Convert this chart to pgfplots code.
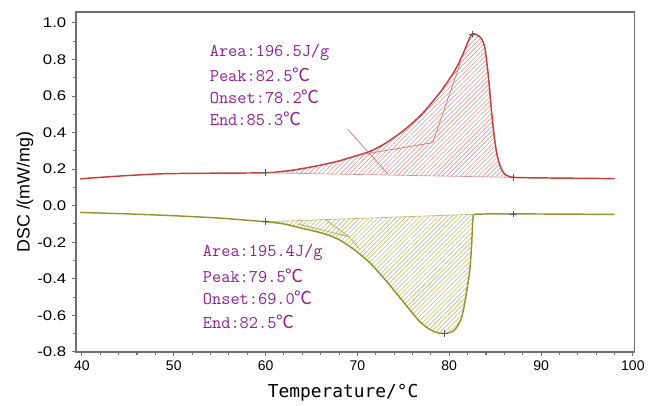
\documentclass[border=0pt]{standalone}
\usepackage{fontspec}
\setmainfont{Liberation Sans}
\newfontfamily\cjk{Noto Sans CJK SC}
\newfontfamily\monosans{DejaVu Sans Mono}
\usepackage{pgfplots}
\pgfplotsset{compat=1.18}
\usepgfplotslibrary{fillbetween}
\usetikzlibrary{patterns.meta}

\definecolor{redcurve}{RGB}{200,60,60}
\definecolor{redhatch}{RGB}{215,150,150}
\definecolor{redtan}{RGB}{205,130,130}
\definecolor{grncurve}{RGB}{145,150,45}
\definecolor{grnhatch}{RGB}{185,190,115}
\definecolor{grntan}{RGB}{175,180,100}
\definecolor{anncolor}{RGB}{145,30,150}
\definecolor{axisgray}{RGB}{110,110,110}

\newcommand{\anno}{\fontsize{13.4}{15}\ttfamily}
\newcommand{\degc}{{\cjk ℃}}

\begin{document}
\begin{tikzpicture}
\begin{axis}[
  scale only axis, width=419.25pt, height=255pt,
  xmin=39.35, xmax=100.2, ymin=-0.8, ymax=1.06,
  xtick={40,50,60,70,80,90,100}, minor x tick num=4,
  ytick={-0.8,-0.6,-0.4,-0.2,0,0.2,0.4,0.6,0.8,1.0}, minor y tick num=1,
  xtick pos=left, ytick pos=left, tick align=outside,
  major tick length=3pt, minor tick length=2pt,
  tick style={axisgray, line width=0.8pt},
  axis line style={axisgray, line width=1.1pt},
  /pgf/number format/assume math mode=true,
  yticklabel style={font=\fontsize{10.5}{12}\selectfont, xscale=1.2,
    /pgf/number format/fixed, /pgf/number format/fixed zerofill,
    /pgf/number format/precision=1},
  xticklabel style={font=\fontsize{10.5}{12}\selectfont},
  xlabel={Temperature/°C},
  xlabel style={font=\fontsize{13.4}{15}\monosans, at={(axis description cs:0.478,-0.1206)}, anchor=center},
  ylabel={DSC /(mW/mg)},
  ylabel style={font=\fontsize{13.4}{15}\selectfont, at={(axis description cs:-0.0912,0.47)}, anchor=center},
  hatch/.style={pattern={Lines[angle=45, distance=2.4pt, line width=0.45pt]}},
]
% heating curve (endotherm up)
\addplot[name path=red, redcurve, line width=1.1pt, smooth, tension=0.4] coordinates {
 (39.8,0.147) (42,0.155) (45,0.165) (49,0.175) (55,0.178) (60,0.180)
 (62.3,0.19) (64,0.203) (66,0.222) (68,0.245) (70,0.275) (71.5,0.30)
 (73,0.34) (75,0.41) (77,0.50) (79,0.62) (80.5,0.73)
 (81.5,0.83) (82.1,0.905) (82.5,0.94) (83.0,0.935) (83.5,0.915) (83.9,0.86)
 (84.3,0.69) (84.6,0.52) (84.9,0.38) (85.2,0.28) (85.6,0.21) (86.1,0.17)
 (87.0,0.155) (90,0.152) (94,0.15) (98,0.148)};
\addplot[name path=redbase, redhatch, line width=0.5pt] coordinates {(60,0.18) (87,0.155)};
\addplot[hatch, pattern color=redhatch] fill between[of=red and redbase, soft clip={domain=60:87}];
\addplot[redtan, line width=0.6pt] coordinates {(68.9,0.42) (73.3,0.175)};
\addplot[redtan, line width=0.6pt] coordinates {(70.5,0.28) (78.2,0.345) (81.2,0.78)};

% cooling curve (exotherm down)
\addplot[name path=grn, grncurve, line width=1.1pt, smooth, tension=0.4] coordinates {
 (39.8,-0.037) (45,-0.045) (50,-0.055) (55,-0.068) (60,-0.088) (62,-0.100)
 (64,-0.124) (66,-0.148) (67,-0.164) (68,-0.186) (69.5,-0.235) (71.3,-0.31)
 (73.1,-0.41) (74.9,-0.52) (76.7,-0.63) (77.8,-0.675) (78.6,-0.694)
 (79.5,-0.700) (80.3,-0.69) (80.8,-0.667) (81.3,-0.62) (81.6,-0.557)
 (81.9,-0.47) (82.2,-0.37) (82.4,-0.25) (82.5,-0.15) (82.6,-0.06)
 (82.8,-0.047) (85,-0.045) (87,-0.045) (92,-0.046) (98,-0.048)};
\addplot[name path=grnbase, grnhatch, line width=0.5pt] coordinates {(60,-0.088) (82.7,-0.047)};
\addplot[hatch, pattern color=grnhatch] fill between[of=grn and grnbase, soft clip={domain=60:82.7}];
\addplot[grntan, line width=0.6pt] coordinates {(63.5,-0.10) (69.1,-0.17) (70.2,-0.235)};
\addplot[grntan, line width=0.6pt] coordinates {(66.5,-0.075) (69.1,-0.17)};

% characteristic points
\addplot[only marks, mark=+, mark size=2.5pt, gray!70!black, mark options={line width=0.6pt}] coordinates {
 (60,0.18) (82.5,0.94) (87,0.155) (60,-0.088) (79.5,-0.70) (87,-0.045)};

\node[anchor=west, inner sep=0pt, text=anncolor, font=\anno] at (axis cs:53.9,0.838) {Area:196.5J/g};
\node[anchor=west, inner sep=0pt, text=anncolor, font=\anno] at (axis cs:53.9,0.718) {Peak:82.5\degc};
\node[anchor=west, inner sep=0pt, text=anncolor, font=\anno] at (axis cs:53.9,0.597) {Onset:78.2\degc};
\node[anchor=west, inner sep=0pt, text=anncolor, font=\anno] at (axis cs:53.9,0.477) {End:85.3\degc};

\node[anchor=west, inner sep=0pt, text=anncolor, font=\anno] at (axis cs:53.15,-0.258) {Area:195.4J/g};
\node[anchor=west, inner sep=0pt, text=anncolor, font=\anno] at (axis cs:53.15,-0.384) {Peak:79.5\degc};
\node[anchor=west, inner sep=0pt, text=anncolor, font=\anno] at (axis cs:53.15,-0.504) {Onset:69.0\degc};
\node[anchor=west, inner sep=0pt, text=anncolor, font=\anno] at (axis cs:53.15,-0.636) {End:82.5\degc};
\end{axis}
\path (-57pt,-39pt) (429.75pt,264pt);
\end{tikzpicture}
\end{document}
